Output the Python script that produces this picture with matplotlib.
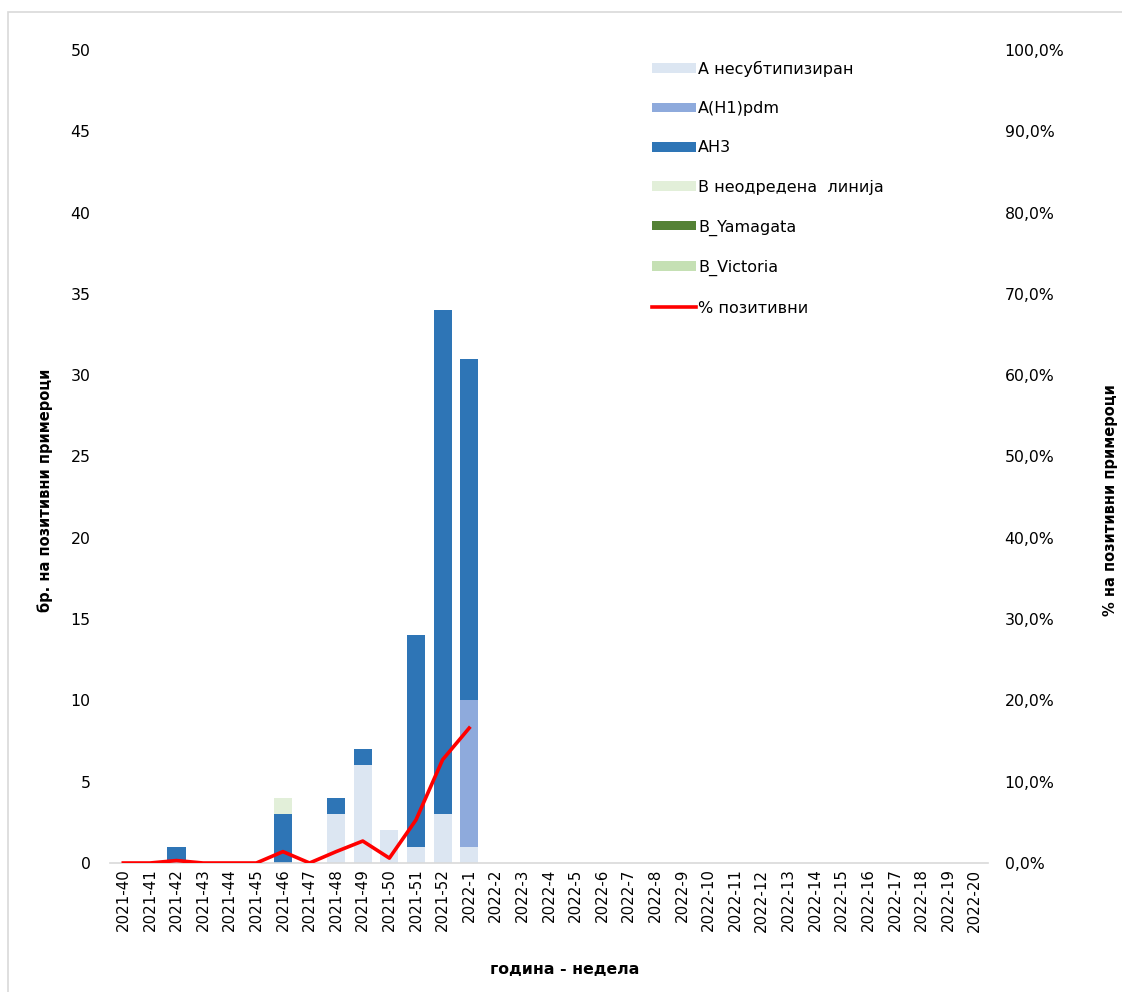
import matplotlib
matplotlib.use("Agg")
import matplotlib.pyplot as plt
from matplotlib.patches import Patch, Rectangle
from matplotlib.lines import Line2D
from matplotlib.ticker import FuncFormatter
import numpy as np

weeks = [f"2021-{w}" for w in range(40, 53)] + [f"2022-{w}" for w in range(1, 21)]
n = len(weeks)

def series(d):
    return [d.get(w, 0) for w in weeks]

a_unsub = series({"2021-48": 3, "2021-49": 6, "2021-50": 2, "2021-51": 1, "2021-52": 3, "2022-1": 1})
a_h1 = series({"2022-1": 9})
a_h3 = series({"2021-42": 1, "2021-46": 3, "2021-48": 1, "2021-49": 1, "2021-51": 13, "2021-52": 31, "2022-1": 21})
b_undet = series({"2021-46": 1})
b_yam = series({})
b_vic = series({})

pct_weeks = weeks[:14]
pct_pos = [0.0, 0.0, 0.3, 0.0, 0.0, 0.0, 1.4, 0.0, 1.4, 2.7, 0.6, 5.3, 12.7, 16.6]

labels = ["A несубтипизиран", "A(H1)pdm", "AH3", "B неодредена  линија", "B_Yamagata", "B_Victoria"]
colors = ["#dce6f2", "#8eaadc", "#2e75b6", "#e2efd9", "#548235", "#c5e0b4"]
line_label = "% позитивни"

plt.rcParams['font.family'] = ['DejaVu Sans']
fig = plt.figure(figsize=(11.22, 9.92), dpi=100)
ax = fig.add_axes([110/1122, 1-863/992, (988-110)/1122, (863-50)/992])
ax2 = ax.twinx()

x = np.arange(n)
bottom = np.zeros(n)
for vals, c in zip([a_unsub, a_h1, a_h3, b_undet, b_yam, b_vic], colors):
    v = np.array(vals, dtype=float)
    ax.bar(x, v, bottom=bottom, width=0.68, color=c, zorder=2)
    bottom += v

ax2.plot(np.arange(len(pct_weeks)), pct_pos, color="#ff0000", lw=2.6, zorder=3)

ax.set_xlim(-0.5, n - 0.5)
ax.set_ylim(0, 50)
ax.set_yticks(range(0, 51, 5))
ax2.set_ylim(0, 100)
ax2.set_yticks(range(0, 101, 10))
ax2.yaxis.set_major_formatter(FuncFormatter(lambda v, p: f"{v:.1f}%".replace(".", ",")))

ax.set_xticks(x)
ax.set_xticklabels(weeks, rotation=90, fontsize=10.8)
ax.tick_params(axis='x', length=0, pad=4)
ax.tick_params(axis='y', length=0, pad=14, labelsize=11.3)
ax2.tick_params(axis='y', length=0, pad=12, labelsize=11.3)

for a in (ax, ax2):
    for s in a.spines.values():
        s.set_visible(False)
ax.spines['bottom'].set_visible(True)
ax.spines['bottom'].set_color("#d9d9d9")
ax.spines['bottom'].set_linewidth(1.2)

fig.text(45/1122, 1-490/992, "бр. на позитивни примероци", rotation=90, fontsize=10.5,
         fontweight='bold', ha='center', va='center')
fig.text(1110/1122, 1-500/992, "% на позитивни примероци", rotation=90, fontsize=10.5,
         fontweight='bold', ha='center', va='center')
fig.text(565/1122, 1-970/992, "година - недела", fontsize=11.3, fontweight='bold',
         ha='center', va='center')

handles = [Patch(facecolor=c, edgecolor='none') for c in colors] + [Line2D([0], [0], color="#ff0000", lw=2.6)]
leg = ax.legend(handles, labels + [line_label], loc='upper left',
                bbox_to_anchor=(646/1122, 1-54/992), bbox_transform=fig.transFigure,
                frameon=False, fontsize=11.5, labelspacing=1.53, handlelength=2.75,
                handleheight=0.55, handletextpad=0.1, borderaxespad=0)

fig.patches.append(Rectangle((8/1122, -0.02), 1.1, (992-12)/992 + 0.02,
                             transform=fig.transFigure, fill=False,
                             edgecolor="#d9d9d9", lw=1.2, zorder=-1))

fig.savefig("out.png", dpi=100)
